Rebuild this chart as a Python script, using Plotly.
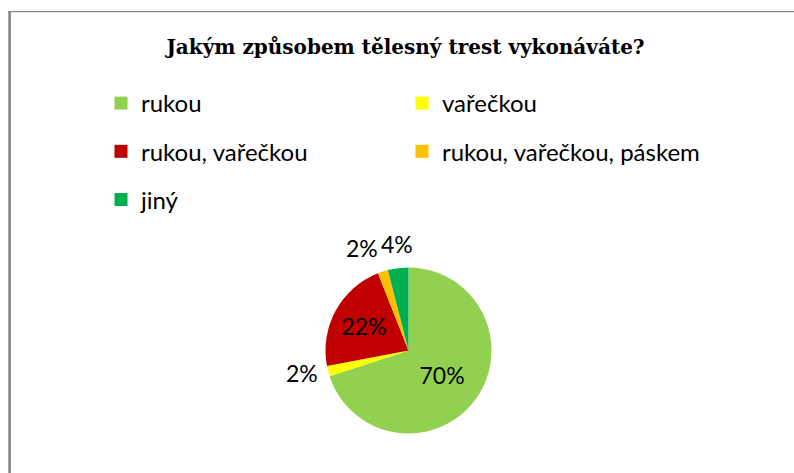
import math
import plotly.graph_objects as go

categories = ["rukou", "vařečkou", "rukou, vařečkou", "rukou, vařečkou, páskem", "jiný"]
values = [70, 2, 22, 2, 4]
colors = ["#92D050", "#FFFF00", "#C00000", "#FFC000", "#00B050"]
label_inside = [True, False, True, False, False]
left_column = [0, 2, 4]
right_column = [1, 3]

W, H = 794, 473
DOM_X = [325.5 / W, 491.5 / W]
DOM_Y = [39.5 / H, 205.5 / H]
LABEL_FONT = dict(family="Lato", size=23, color="#000000")

fig = go.Figure()
fig.add_trace(go.Pie(
    values=values,
    labels=categories,
    marker=dict(colors=colors, line=dict(width=0)),
    sort=False,
    direction="clockwise",
    rotation=0,
    textinfo="percent",
    textposition=["inside" if inside else "none" for inside in label_inside],
    insidetextorientation="horizontal",
    textfont=LABEL_FONT,
    showlegend=False,
    domain=dict(x=DOM_X, y=DOM_Y),
    hoverinfo="label+percent",
))

# outside data labels, placed like the source application's "best fit" labels
total = sum(values)
cx = (DOM_X[0] + DOM_X[1]) / 2
cy = (DOM_Y[0] + DOM_Y[1]) / 2
radius_px = min((DOM_X[1] - DOM_X[0]) * W, (DOM_Y[1] - DOM_Y[0]) * H) / 2
annotations = []
cum = 0
for v, inside in zip(values, label_inside):
    mid = (cum + v / 2) / total * 2 * math.pi
    cum += v
    if inside:
        continue
    s, c = math.sin(mid), math.cos(mid)
    d = radius_px + 8
    xa = "center" if abs(s) < 0.2 else ("right" if s < 0 else "left")
    ya = "bottom" if c > 0.5 else ("top" if c < -0.5 else "middle")
    annotations.append(dict(
        x=cx + d * s / W, y=cy + d * c / H, xref="paper", yref="paper",
        text=f"{round(v / total * 100)}%", showarrow=False,
        xanchor=xa, yanchor=ya, font=LABEL_FONT,
    ))

for col, legend_name in ((left_column, "legend"), (right_column, "legend2")):
    for i in col:
        fig.add_trace(go.Scatter(
            x=[None], y=[None], mode="markers",
            marker=dict(symbol="square", size=13, color=colors[i]),
            name=categories[i], legendgroup=categories[i],
            showlegend=True, legend=legend_name,
        ))

legend_common = dict(
    orientation="v", xanchor="left", yanchor="top",
    font=dict(family="Lato", size=24, color="#000000"),
    tracegroupgap=14, bgcolor="rgba(0,0,0,0)", itemclick=False,
)

fig.update_layout(
    width=W, height=H,
    margin=dict(l=0, r=0, t=0, b=0),
    paper_bgcolor="white", plot_bgcolor="white",
    title=dict(
        text="<b>Jakým způsobem tělesný trest vykonáváte?</b>",
        x=405.5 / W, xanchor="center", y=1 - 47 / H, yanchor="middle",
        font=dict(family="DejaVu Serif", size=20, color="#000000"),
    ),
    xaxis=dict(visible=False), yaxis=dict(visible=False),
    legend=dict(x=101 / W, y=1 - 81 / H, **legend_common),
    legend2=dict(x=402 / W, y=1 - 81 / H, **legend_common),
    annotations=annotations,
    shapes=[
        dict(type="line", xref="paper", yref="paper",
             x0=8 / W, x1=1.0, y0=1 - 11.6 / H, y1=1 - 11.6 / H,
             line=dict(color="#868686", width=1.4)),
        dict(type="line", xref="paper", yref="paper",
             x0=9.6 / W, x1=9.6 / W, y0=0, y1=1 - 11 / H,
             line=dict(color="#868686", width=2.6)),
    ],
)

fig.write_html("out.html", config={"displayModeBar": False},
               post_script="document.body.style.margin='0px';")
